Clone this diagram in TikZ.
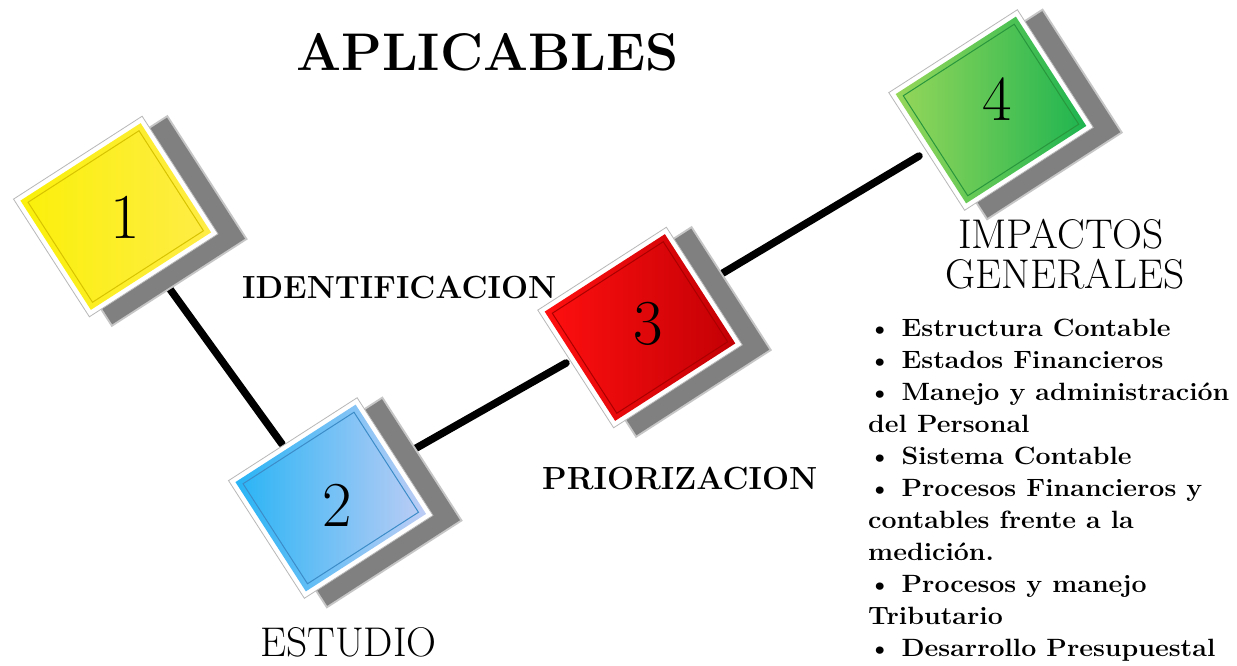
\documentclass[tikz,border=0pt]{standalone}
\usepackage{fontspec}
\definecolor{shadowgray}{RGB}{128,128,128}
\definecolor{yelA}{RGB}{250,240,10}
\definecolor{yelB}{RGB}{255,236,70}
\definecolor{yelE}{RGB}{215,195,0}
\definecolor{bluA}{RGB}{40,180,245}
\definecolor{bluB}{RGB}{190,205,245}
\definecolor{bluE}{RGB}{60,140,200}
\definecolor{redA}{RGB}{255,15,15}
\definecolor{redB}{RGB}{195,0,5}
\definecolor{redE}{RGB}{170,0,0}
\definecolor{grnA}{RGB}{150,215,90}
\definecolor{grnB}{RGB}{30,180,80}
\definecolor{grnE}{RGB}{40,150,60}
\newcommand\tilesq[5]{%
  \begin{scope}[shift={(#1+23,#2+5)},rotate=32.8]
    \fill[shadowgray!45] (-80,-74) rectangle (82,74);
    \fill[shadowgray] (-78,-72) rectangle (80,72);
  \end{scope}
  \begin{scope}[shift={(#1,#2)},rotate=32.8]
    \filldraw[tileframe] (-76.5,-70) rectangle (76.5,70);
    \shade[left color=#3,right color=#4] (-71.5,-65) rectangle (71.5,65);
    \draw[#5,line width=1pt] (-66,-59.5) rectangle (66,59.5);
  \end{scope}}
\begin{document}
\begin{tikzpicture}[x=1pt,y=-1pt,
  tileframe/.style={fill=white,draw=black!28,line width=0.8pt},
  link/.style={line width=7.5pt,line cap=round,black},
  numlabel/.style={font=\fontsize{64}{64}\selectfont,inner sep=0pt},
  steplabel/.style={font=\fontsize{32}{38}\selectfont\bfseries,inner sep=0pt,anchor=base west},
  biglabel/.style={font=\fontsize{41.5}{44}\selectfont,inner sep=0pt,anchor=base},
  listtext/.style={font=\fontsize{25}{32}\selectfont\bfseries,inner sep=0pt,align=left,anchor=base west,xscale=1.07}]
\useasboundingbox (0,0) rectangle (1237,665);
\fill[white] (0,0) rectangle (1237,665);
% connectors
\coordinate (l1a) at (167,285);
\coordinate (l1b) at (282,444);
\coordinate (l2a) at (404,455);
\coordinate (l2b) at (566,363);
\coordinate (l3a) at (723,273);
\coordinate (l3b) at (919,156);
\draw[link] (l1a) -- (l1b);
\draw[link] (l2a) -- (l2b);
\draw[link] (l3a) -- (l3b);
% tiles
\tilesq{115.75}{216.5}{yelA}{yelB}{yelE}
\tilesq{330.75}{498}{bluA}{bluB}{bluE}
\tilesq{640}{327.5}{redA}{redB}{redE}
\tilesq{991}{110}{grnA}{grnB}{grnE}
\node[numlabel] (s1) at (125,217) {1};
\node[numlabel] (s2) at (337,505) {2};
\node[numlabel] (s3) at (648,324) {3};
\node[numlabel] (s4) at (997,99) {4};
% labels
\node[font=\fontsize{53}{58}\selectfont\bfseries,inner sep=0pt,anchor=base] (title) at (487.5,70) {APLICABLES};
\node[steplabel] (ident) at (242,298) {IDENTIFICACION};
\node[steplabel] (prior) at (542,489) {PRIORIZACION};
\node[font=\fontsize{41.5}{44}\selectfont,inner sep=0pt,anchor=base west] (estudio) at (260,656) {ESTUDIO};
\node[biglabel] (imp1) at (1061,248) {IMPACTOS};
\node[biglabel] (imp2) at (1065,288) {GENERALES};
\node[listtext] (list) at (868,656) {\textbullet{} Estructura Contable\\
\textbullet{} Estados Financieros\\
\textbullet{} Manejo y administración\\
del Personal\\
\textbullet{} Sistema Contable\\
\textbullet{} Procesos Financieros y\\
contables frente a la\\
medición.\\
\textbullet{} Procesos y manejo\\
Tributario\\
\textbullet{} Desarrollo Presupuestal};
\end{tikzpicture}
\end{document}
